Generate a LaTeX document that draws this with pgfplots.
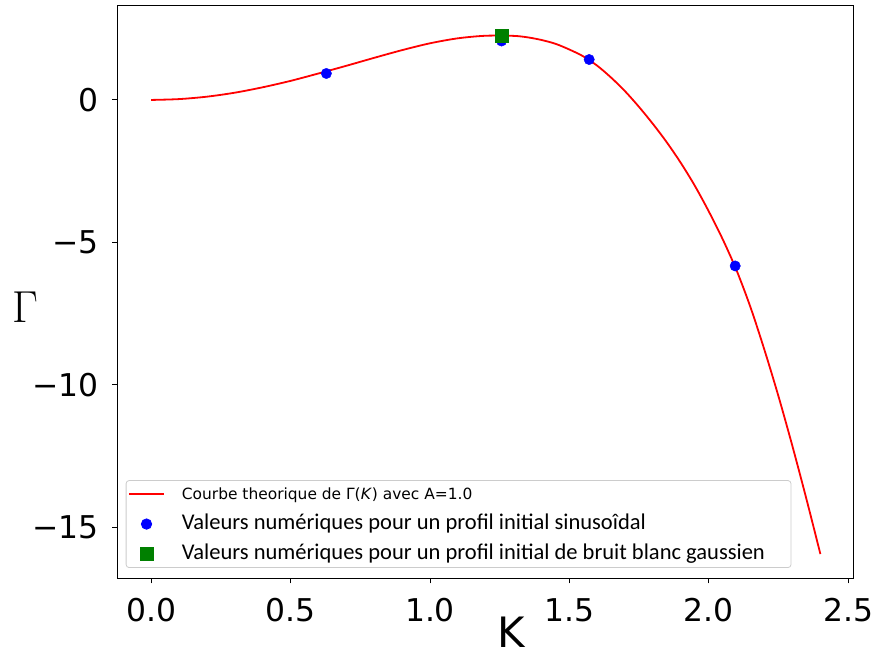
\documentclass[border=0pt]{standalone}
\usepackage{pgfplots}
\pgfplotsset{compat=1.18}
\usepackage{pgfplotstable}
\usepackage{fontspec}
\setmainfont{DejaVu Sans}
\newfontfamily\carlito{Carlito}
\newfontfamily\lmr{Latin Modern Roman}

\pgfplotstableread{
K G
0.00 0.000
0.10 0.030
0.20 0.115
0.30 0.255
0.40 0.445
0.50 0.670
0.60 0.930
0.70 1.200
0.80 1.480
0.90 1.750
1.00 1.990
1.10 2.165
1.20 2.255
1.30 2.250
1.35 2.199
1.40 2.106
1.45 1.972
1.50 1.770
1.55 1.530
1.60 1.200
1.65 0.780
1.70 0.300
1.75 -0.250
1.80 -0.850
1.85 -1.500
1.90 -2.220
1.95 -3.020
2.00 -3.920
2.05 -4.900
2.10 -6.000
2.15 -7.300
2.20 -8.800
2.25 -10.420
2.30 -12.170
2.35 -14.020
2.40 -15.950
}\curve

\pgfplotstableread{
K G
0.6283 0.93
1.2566 2.07
1.5708 1.42
2.0944 -5.83
}\sinus

\pgfplotstableread{
K G
1.2566 2.27
}\bruit

\begin{document}
\begin{tikzpicture}
\begin{axis}[
  scale only axis, width=735.6bp, height=573bp,
  xmin=-0.12, xmax=2.518, ymin=-16.79, ymax=3.335,
  axis line style={black, line width=0.9bp},
  xtick={0,0.5,1,1.5,2,2.5}, xticklabels={0.0,0.5,1.0,1.5,2.0,2.5},
  ytick={-15,-10,-5,0}, yticklabels={−15,−10,−5,0},
  xtick pos=left, ytick pos=left,
  tick align=outside, major tick length=5.3bp,
  tick style={black, line width=0.9bp},
  ticklabel style={font=\fontsize{31.5}{31.5}\selectfont, inner sep=0pt},
  xticklabel style={anchor=north, yshift=-15bp},
  yticklabel style={anchor=east, xshift=-13.7bp},
  xlabel={K},
  xlabel style={at={(axis description cs:0.5347,0)}, anchor=center, inner sep=0pt, yshift=-54bp, font=\fontsize{42}{42}\selectfont},
  ylabel={{\lmr Γ}},
  ylabel style={rotate=-90, at={(axis description cs:-0.125,0.473)}, anchor=center, inner sep=0pt, font=\fontsize{45}{45}\selectfont},
  legend cell align=left,
  legend image code/.code={\draw[mark repeat=2, mark phase=2, #1] plot coordinates {(0bp,0bp) (17.5bp,0bp) (35bp,0bp)};},
  legend style={at={(axis description cs:0.0109,0.0175)}, anchor=south west,
    draw=black!20, line width=0.8bp, rounded corners=3bp, fill=white,
    inner xsep=2bp, inner ysep=1.5bp, column sep=17bp, row sep=6bp,
    nodes={inner xsep=0pt, inner ysep=2bp, text height=15bp, text depth=5bp, anchor=west}},
]
\addplot[red, line width=1.8bp, smooth] table[x=K, y=G] {\curve};
\addlegendentry{\fontsize{15.5}{15.5}\selectfont Courbe theorique de Γ(\textit{K}) avec A=1.0}
\addplot[only marks, mark=*, mark size=5.2bp, color=blue] table[x=K, y=G] {\sinus};
\addlegendentry{\carlito\fontsize{22.6}{22.6}\selectfont Valeurs numériques pour un profil initial sinusoîdal}
\addplot[only marks, mark=square*, mark size=6.5bp, color={rgb,255:red,0;green,128;blue,0}] table[x=K, y=G] {\bruit};
\addlegendentry{\carlito\fontsize{22.6}{22.6}\selectfont Valeurs numériques pour un profil initial de bruit blanc gaussien\hspace*{24bp}}
\end{axis}
\path ([shift={(-117.7bp,-79bp)}]current axis.south west) rectangle ([shift={(20.7bp,5bp)}]current axis.north east);
\end{tikzpicture}
\end{document}
